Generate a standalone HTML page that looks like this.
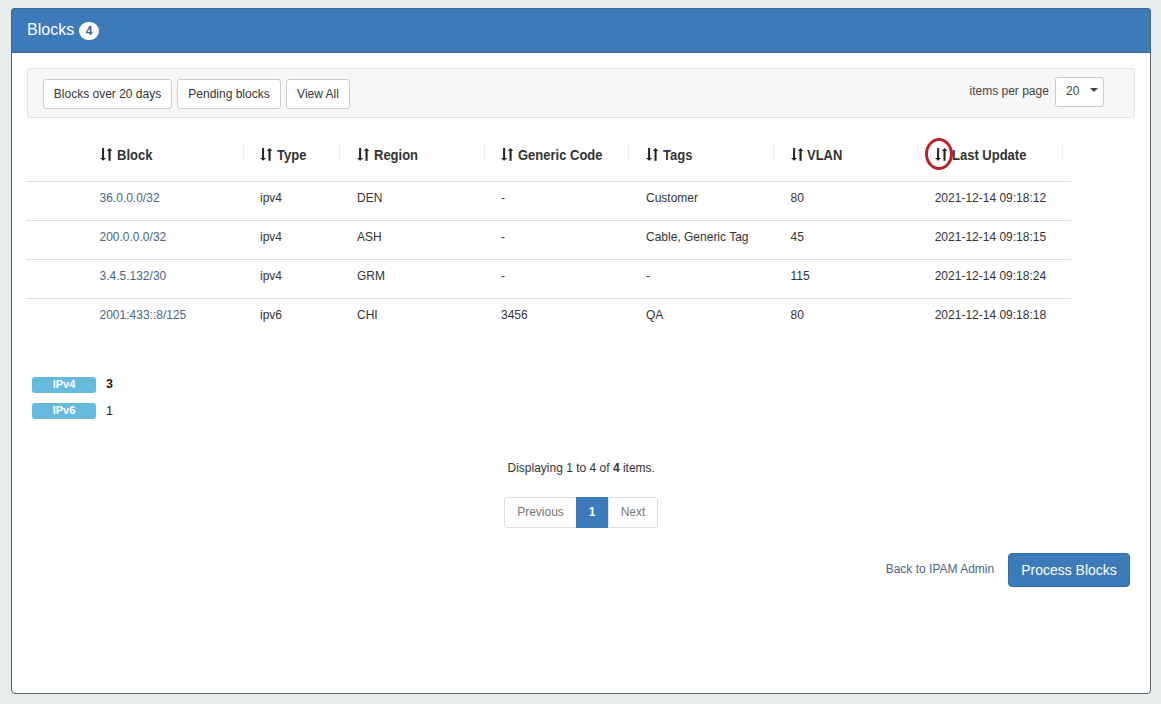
<!DOCTYPE html>
<html><head><meta charset="utf-8">
<style>
*{box-sizing:border-box;margin:0;padding:0}
html,body{width:1161px;height:704px;overflow:hidden}
body{background:#e9eced;font-family:"Liberation Sans",sans-serif;color:#333;font-size:12px;position:relative}
.a{position:absolute;white-space:nowrap;line-height:1}
.panel{position:absolute;left:11px;top:8px;width:1140px;height:686px;background:#fff;border:1px solid #56626e;border-radius:4px;overflow:hidden}
.ph{position:absolute;left:0;top:0;right:0;height:44px;background:#3d7ab9}
.title{color:#fff;font-size:16px}
.badge{position:absolute;left:79px;top:22px;width:20px;height:18px;border-radius:9px;background:#fff;color:#46627f;font-weight:bold;font-size:12px;text-align:center;line-height:18px}
.well{position:absolute;left:27px;top:68px;width:1108px;height:50px;background:#f7f7f7;border:1px solid #e3e3e3;border-radius:3px}
.btn{position:absolute;top:79px;height:30px;background:#fff;border:1px solid #ccc;border-radius:3px;font-size:12px;color:#333;text-align:center;line-height:28px}
.sel{position:absolute;left:1055px;top:77px;width:49px;height:30px;background:#fff;border:1px solid #ccc;border-radius:3px}
.hline{position:absolute;left:26px;width:1045px;height:1px;background:#ddd}
.th{font-weight:bold;font-size:13px;color:#333;transform:scaleY(1.08);transform-origin:0 11px}
.sep{position:absolute;top:144px;width:1px;height:16px;background:#f0f0f0}
.lnk{color:#4b6683}
.lbl{position:absolute;left:32px;width:64px;height:16px;border-radius:3px;background:#66bbdd;color:#fff;font-weight:bold;font-size:11px;text-align:center;line-height:14.5px}
.pg{position:absolute;top:497px;height:31px;border:1px solid #ddd;background:#fff;font-size:12px;color:#777;text-align:center;line-height:29px}
.pbtn{position:absolute;left:1008px;top:553px;width:122px;height:34px;background:#3d7ab9;border:1px solid #2e6da4;border-radius:4px;color:#fff;font-size:14px;text-align:center;line-height:32px}
</style></head>
<body>
<div class="panel"></div>
<div style="position:absolute;left:11px;top:8px;width:1140px;height:45px;background:#3d7ab9;border:1px solid #3f6890;border-bottom-color:#3b6592;border-radius:4px 4px 0 0"></div>
<div class="a title" style="left:27px;top:21.5px">Blocks</div>
<div class="badge">4</div>

<div class="well"></div>
<div class="btn" style="left:43px;width:129px">Blocks over 20 days</div>
<div class="btn" style="left:177px;width:104px">Pending blocks</div>
<div class="btn" style="left:286px;width:64px">View All</div>
<div class="a" style="left:969.5px;top:84.5px;color:#444">items per page</div>
<div class="sel"></div>
<div class="a" style="left:1066px;top:84.5px;color:#444">20</div>
<svg class="a" style="left:1090px;top:88px" width="8" height="4" viewBox="0 0 8 4"><path d="M0 0H8L4 4Z" fill="#444"/></svg>

<!-- table header -->
<div class="hline" style="top:181px"></div>
<div class="hline" style="top:220px"></div>
<div class="hline" style="top:259px"></div>
<div class="hline" style="top:298px"></div>
<div class="sep" style="left:243px"></div>
<div class="sep" style="left:339px"></div>
<div class="sep" style="left:484px"></div>
<div class="sep" style="left:628px"></div>
<div class="sep" style="left:773px"></div>
<div class="sep" style="left:917px"></div>
<div class="sep" style="left:1062px"></div>

<svg class="a" style="left:100px;top:148px" width="13" height="13" viewBox="0 0 13 13"><rect x="2.1" y="0" width="2" height="10.4" fill="#222"/><path d="M0 9.9H6.2L3.1 12.8Z" fill="#222"/><rect x="8.5" y="2.4" width="2.1" height="10.4" fill="#222"/><path d="M6.9 3H12.2L9.55 0Z" fill="#222"/></svg>
<div class="a th" style="left:117px;top:149.1px">Block</div>
<svg class="a" style="left:260px;top:148px" width="13" height="13" viewBox="0 0 13 13"><rect x="2.1" y="0" width="2" height="10.4" fill="#222"/><path d="M0 9.9H6.2L3.1 12.8Z" fill="#222"/><rect x="8.5" y="2.4" width="2.1" height="10.4" fill="#222"/><path d="M6.9 3H12.2L9.55 0Z" fill="#222"/></svg>
<div class="a th" style="left:277px;top:149.1px">Type</div>
<svg class="a" style="left:357px;top:148px" width="13" height="13" viewBox="0 0 13 13"><rect x="2.1" y="0" width="2" height="10.4" fill="#222"/><path d="M0 9.9H6.2L3.1 12.8Z" fill="#222"/><rect x="8.5" y="2.4" width="2.1" height="10.4" fill="#222"/><path d="M6.9 3H12.2L9.55 0Z" fill="#222"/></svg>
<div class="a th" style="left:374px;top:149.1px">Region</div>
<svg class="a" style="left:501px;top:148px" width="13" height="13" viewBox="0 0 13 13"><rect x="2.1" y="0" width="2" height="10.4" fill="#222"/><path d="M0 9.9H6.2L3.1 12.8Z" fill="#222"/><rect x="8.5" y="2.4" width="2.1" height="10.4" fill="#222"/><path d="M6.9 3H12.2L9.55 0Z" fill="#222"/></svg>
<div class="a th" style="left:518px;top:149.1px">Generic Code</div>
<svg class="a" style="left:646px;top:148px" width="13" height="13" viewBox="0 0 13 13"><rect x="2.1" y="0" width="2" height="10.4" fill="#222"/><path d="M0 9.9H6.2L3.1 12.8Z" fill="#222"/><rect x="8.5" y="2.4" width="2.1" height="10.4" fill="#222"/><path d="M6.9 3H12.2L9.55 0Z" fill="#222"/></svg>
<div class="a th" style="left:663px;top:149.1px">Tags</div>
<svg class="a" style="left:790.5px;top:148px" width="13" height="13" viewBox="0 0 13 13"><rect x="2.1" y="0" width="2" height="10.4" fill="#222"/><path d="M0 9.9H6.2L3.1 12.8Z" fill="#222"/><rect x="8.5" y="2.4" width="2.1" height="10.4" fill="#222"/><path d="M6.9 3H12.2L9.55 0Z" fill="#222"/></svg>
<div class="a th" style="left:807px;top:149.1px">VLAN</div>
<svg class="a" style="left:935px;top:148px" width="13" height="13" viewBox="0 0 13 13"><rect x="2.1" y="0" width="2" height="10.4" fill="#222"/><path d="M0 9.9H6.2L3.1 12.8Z" fill="#222"/><rect x="8.5" y="2.4" width="2.1" height="10.4" fill="#222"/><path d="M6.9 3H12.2L9.55 0Z" fill="#222"/></svg>
<div class="a th" style="left:952px;top:149.1px">Last Update</div>
<div style="position:absolute;left:925px;top:138px;width:28px;height:32px;border:3.1px solid #b92228;border-radius:50%"></div>

<!-- rows -->
<div class="a lnk" style="left:99.5px;top:192px">36.0.0.0/32</div>
<div class="a" style="left:260px;top:192px">ipv4</div>
<div class="a" style="left:357px;top:192px">DEN</div>
<div class="a" style="left:501px;top:192px">-</div>
<div class="a" style="left:646px;top:192px">Customer</div>
<div class="a" style="left:790.5px;top:192px">80</div>
<div class="a" style="left:934.7px;top:192px">2021-12-14 09:18:12</div>

<div class="a lnk" style="left:99.5px;top:231px">200.0.0.0/32</div>
<div class="a" style="left:260px;top:231px">ipv4</div>
<div class="a" style="left:357px;top:231px">ASH</div>
<div class="a" style="left:501px;top:231px">-</div>
<div class="a" style="left:646px;top:231px">Cable, Generic Tag</div>
<div class="a" style="left:790.5px;top:231px">45</div>
<div class="a" style="left:934.7px;top:231px">2021-12-14 09:18:15</div>

<div class="a lnk" style="left:99.5px;top:270px">3.4.5.132/30</div>
<div class="a" style="left:260px;top:270px">ipv4</div>
<div class="a" style="left:357px;top:270px">GRM</div>
<div class="a" style="left:501px;top:270px">-</div>
<div class="a" style="left:646px;top:270px">-</div>
<div class="a" style="left:790.5px;top:270px">115</div>
<div class="a" style="left:934.7px;top:270px">2021-12-14 09:18:24</div>

<div class="a lnk" style="left:99.5px;top:309px">2001:433::8/125</div>
<div class="a" style="left:260px;top:309px">ipv6</div>
<div class="a" style="left:357px;top:309px">CHI</div>
<div class="a" style="left:501px;top:309px">3456</div>
<div class="a" style="left:646px;top:309px">QA</div>
<div class="a" style="left:790.5px;top:309px">80</div>
<div class="a" style="left:934.7px;top:309px">2021-12-14 09:18:18</div>

<!-- labels -->
<div class="lbl" style="top:377px">IPv4</div>
<div class="lbl" style="top:403px">IPv6</div>
<div class="a" style="left:106px;top:378px;font-size:12.5px;font-weight:bold;color:#222">3</div>
<div class="a" style="left:106px;top:404.5px;font-size:12.5px;color:#222">1</div>

<div class="a" style="left:507.5px;top:462px">Displaying 1 to 4 of <b>4</b> items.</div>

<div class="pg" style="left:504px;width:73px;border-radius:3px 0 0 3px">Previous</div>
<div class="pg" style="left:576px;width:32px;background:#3d7ab9;border-color:#3d7ab9;color:#fff;font-weight:bold">1</div>
<div class="pg" style="left:608px;width:50px;border-radius:0 3px 3px 0">Next</div>

<div class="a lnk" style="left:885.7px;top:563px">Back to IPAM Admin</div>
<div class="pbtn">Process Blocks</div>
</body></html>
